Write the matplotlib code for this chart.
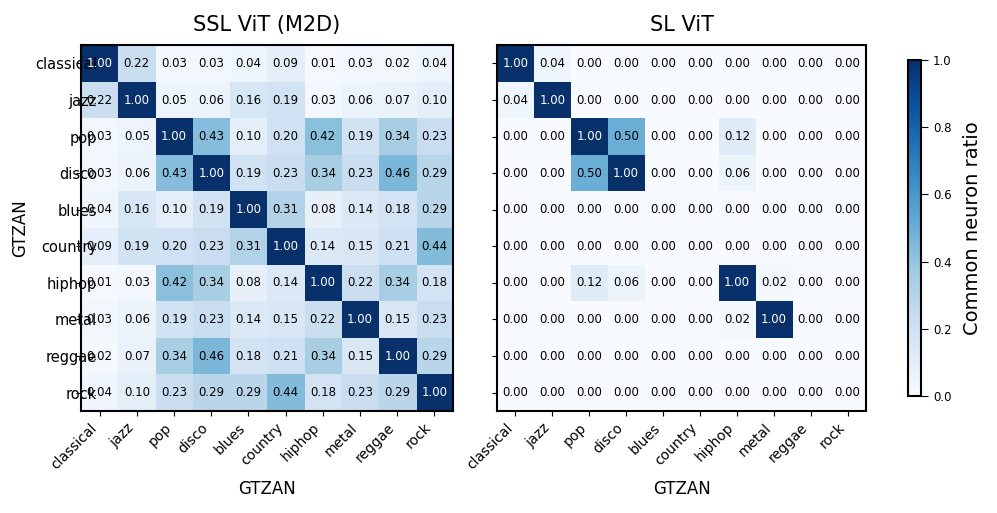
import numpy as np
import matplotlib
matplotlib.use("Agg")
import matplotlib.pyplot as plt

genres = ["classical", "jazz", "pop", "disco", "blues",
          "country", "hiphop", "metal", "reggae", "rock"]

ssl_vit = np.array([
    [1.00, 0.22, 0.03, 0.03, 0.04, 0.09, 0.01, 0.03, 0.02, 0.04],
    [0.22, 1.00, 0.05, 0.06, 0.16, 0.19, 0.03, 0.06, 0.07, 0.10],
    [0.03, 0.05, 1.00, 0.43, 0.10, 0.20, 0.42, 0.19, 0.34, 0.23],
    [0.03, 0.06, 0.43, 1.00, 0.19, 0.23, 0.34, 0.23, 0.46, 0.29],
    [0.04, 0.16, 0.10, 0.19, 1.00, 0.31, 0.08, 0.14, 0.18, 0.29],
    [0.09, 0.19, 0.20, 0.23, 0.31, 1.00, 0.14, 0.15, 0.21, 0.44],
    [0.01, 0.03, 0.42, 0.34, 0.08, 0.14, 1.00, 0.22, 0.34, 0.18],
    [0.03, 0.06, 0.19, 0.23, 0.14, 0.15, 0.22, 1.00, 0.15, 0.23],
    [0.02, 0.07, 0.34, 0.46, 0.18, 0.21, 0.34, 0.15, 1.00, 0.29],
    [0.04, 0.10, 0.23, 0.29, 0.29, 0.44, 0.18, 0.23, 0.29, 1.00],
])

sl_vit = np.array([
    [1.00, 0.04, 0.00, 0.00, 0.00, 0.00, 0.00, 0.00, 0.00, 0.00],
    [0.04, 1.00, 0.00, 0.00, 0.00, 0.00, 0.00, 0.00, 0.00, 0.00],
    [0.00, 0.00, 1.00, 0.50, 0.00, 0.00, 0.12, 0.00, 0.00, 0.00],
    [0.00, 0.00, 0.50, 1.00, 0.00, 0.00, 0.06, 0.00, 0.00, 0.00],
    [0.00, 0.00, 0.00, 0.00, 0.00, 0.00, 0.00, 0.00, 0.00, 0.00],
    [0.00, 0.00, 0.00, 0.00, 0.00, 0.00, 0.00, 0.00, 0.00, 0.00],
    [0.00, 0.00, 0.12, 0.06, 0.00, 0.00, 1.00, 0.02, 0.00, 0.00],
    [0.00, 0.00, 0.00, 0.00, 0.00, 0.00, 0.02, 1.00, 0.00, 0.00],
    [0.00, 0.00, 0.00, 0.00, 0.00, 0.00, 0.00, 0.00, 0.00, 0.00],
    [0.00, 0.00, 0.00, 0.00, 0.00, 0.00, 0.00, 0.00, 0.00, 0.00],
])

titles = ["SSL ViT (M2D)", "SL ViT"]

fig = plt.figure(figsize=(9.97, 5.13), dpi=100)
ax1 = fig.add_axes([81 / 997, 0.199, 372 / 997, 0.713])
ax2 = fig.add_axes([497 / 997, 0.199, 369 / 997, 0.713])
cax = fig.add_axes([908 / 997, 1 - 396 / 513, 13 / 997, 336 / 513])

for k, (ax, mat, title) in enumerate(zip([ax1, ax2], [ssl_vit, sl_vit], titles)):
    im = ax.imshow(mat, cmap="Blues", vmin=0, vmax=1, aspect="auto")
    n = len(genres)
    for i in range(n):
        for j in range(n):
            v = mat[i, j]
            ax.text(j, i, f"{v:.2f}", ha="center", va="center", fontsize=8.5,
                    color="white" if v > 0.6 else "black")
    ax.set_xticks(range(n))
    ax.set_xticklabels(genres, rotation=45, ha="right", fontsize=10)
    ax.set_yticks(range(n))
    if k == 0:
        ax.set_yticklabels(genres, fontsize=10.5)
        ax.tick_params(axis="y", pad=-15)
        ax.set_ylabel("GTZAN", fontsize=12)
    else:
        ax.set_yticklabels([])
    ax.set_xlabel("GTZAN", fontsize=12, labelpad=6)
    ax.set_title(title, fontsize=15, pad=10)
    for s in ax.spines.values():
        s.set_linewidth(1.5)

cb = fig.colorbar(im, cax=cax)
cb.set_label("Common neuron ratio", fontsize=14, labelpad=8)
cb.ax.tick_params(labelsize=8.5, length=5)
cb.outline.set_linewidth(1.5)

fig.savefig("out.png", dpi=100)
